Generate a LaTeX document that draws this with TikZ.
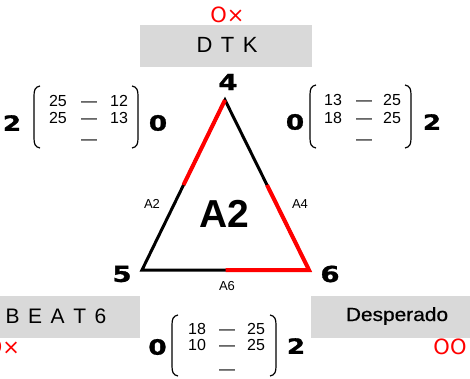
\documentclass[tikz,border=0pt]{standalone}
\usepackage{fontspec}
\usepackage{graphicx}
\setmainfont{Liberation Sans}
\newfontfamily\heavyfont{DejaVu Sans}[BoldFeatures={FakeBold=1.2}]
\newfontfamily\markfont{DejaVu Sans}
\newfontfamily\despfont{Liberation Sans}[FakeBold=0.6]
\usetikzlibrary{calc}
\definecolor{boxgray}{RGB}{217,217,217}
\definecolor{mred}{RGB}{255,0,0}
\newcommand{\gapx}{\hspace{8.5pt}}
\newcommand{\bigdig}[1]{\scalebox{1.25}[1]{#1}}
\newcommand{\myLparen}[3]{\draw[paren] (#1+6,#2) .. controls (#1+1,#2+1) and (#1,#2+4) .. (#1,#2+10) -- (#1,#3-10) .. controls (#1,#3-4) and (#1+1,#3-1) .. (#1+6,#3);}
\newcommand{\myRparen}[3]{\draw[paren] (#1-6,#2) .. controls (#1-1,#2+1) and (#1,#2+4) .. (#1,#2+10) -- (#1,#3-10) .. controls (#1,#3-4) and (#1-1,#3-1) .. (#1-6,#3);}
\begin{document}
\begin{tikzpicture}[x=1pt,y=-1pt,
  every node/.style={inner sep=0pt,outer sep=0pt},
  graybox/.style={fill=boxgray,minimum height=42pt},
  boxtext/.style={anchor=base,font=\fontsize{22}{26}\selectfont},
  vlabel/.style={font=\fontsize{22}{26}\selectfont\heavyfont\bfseries},
  sidedig/.style={font=\fontsize{21}{25}\selectfont\heavyfont\bfseries},
  mtx/.style={anchor=base,font=\fontsize{16}{19}\selectfont},
  edgelbl/.style={anchor=base,font=\fontsize{13}{15}\selectfont},
  redmark/.style={text=mred,font=\fontsize{21}{24}\selectfont\markfont},
  blackedge/.style={line width=3pt},
  rededge/.style={draw=mred,line width=4pt},
  paren/.style={line width=1.2pt}]
\useasboundingbox (0,0) rectangle (470,379);
% boxes
\node[graybox,minimum width=172pt] (dtkbox) at (226,46) {};
\node[boxtext] (dtk) at (227,53) {D\gapx T\gapx K};
\node[graybox,minimum width=168pt] (beatbox) at (56,316.5) {};
\node[boxtext,font=\fontsize{21}{25}\selectfont] (beat) at (56,323) {B\gapx E\gapx A\gapx T\gapx 6};
\node[graybox,minimum width=172pt] (despbox) at (397,316.5) {};
\node[boxtext,font=\fontsize{19}{23}\selectfont\despfont] (desp) at (397,321) {\scalebox{1.1}[1]{Desperado}};
% red marks
\node[redmark] (mtop) at (227.5,15) {O×};
\node[redmark] (mleft) at (3,347) {O×};
\node[redmark] (mright) at (450,347) {OO};
% triangle
\coordinate (v4) at (225,100);
\coordinate (v5) at (142,270);
\coordinate (v6) at (309,270);
\draw[blackedge] (v4) -- (v5) -- (v6) -- cycle;
\draw[rededge] (v4) -- ($(v4)!0.5!(v5)$);
\draw[rededge] ($(v4)!0.5!(v6)$) -- (v6) -- ($(v5)!0.5!(v6)$);
\node[vlabel] (n4) at (228,82) {\bigdig{4}};
\node[vlabel] (n5) at (122,274) {\bigdig{5}};
\node[vlabel] (n6) at (330,274) {\bigdig{6}};
\node[anchor=base,font=\fontsize{39}{44}\selectfont\bfseries] (big) at (224,227) {A2};
\node[edgelbl] (e2) at (152,208) {A2};
\node[edgelbl] (e4) at (300,208) {A4};
\node[edgelbl] (e6) at (227,290) {A6};
% left matrix
\node[sidedig] (l2) at (12,123) {\bigdig{2}};
\node[sidedig] (l0) at (158,123) {\bigdig{0}};
\myLparen{34}{86}{148}
\myRparen{138}{86}{148}
\node[mtx] (la1) at (58,107) {25};
\node[mtx] (lb1) at (89,107) {—};
\node[mtx] (lc1) at (119,107) {12};
\node[mtx] (la2) at (58,124) {25};
\node[mtx] (lb2) at (89,124) {—};
\node[mtx] (lc2) at (119,124) {13};
\node[mtx] (lb3) at (89,145) {—};
% right matrix
\node[sidedig] (r0) at (295,122) {\bigdig{0}};
\node[sidedig] (r2) at (432,122) {\bigdig{2}};
\myLparen{310}{85}{148}
\myRparen{411}{85}{148}
\node[mtx] (ra1) at (333,106) {13};
\node[mtx] (rb1) at (364,106) {—};
\node[mtx] (rc1) at (392,106) {25};
\node[mtx] (ra2) at (333,124) {18};
\node[mtx] (rb2) at (364,124) {—};
\node[mtx] (rc2) at (392,124) {25};
\node[mtx] (rb3) at (364,145) {—};
% bottom matrix
\node[sidedig] (b0) at (157.5,347) {\bigdig{0}};
\node[sidedig] (b2) at (296,346) {\bigdig{2}};
\myLparen{172}{315}{376}
\myRparen{276}{315}{376}
\node[mtx] (ba1) at (197,334) {18};
\node[mtx] (bb1) at (227,334) {—};
\node[mtx] (bc1) at (256,334) {25};
\node[mtx] (ba2) at (197,350) {10};
\node[mtx] (bb2) at (227,350) {—};
\node[mtx] (bc2) at (256,350) {25};
\node[mtx] (bb3) at (227,374) {—};
\end{tikzpicture}
\end{document}
